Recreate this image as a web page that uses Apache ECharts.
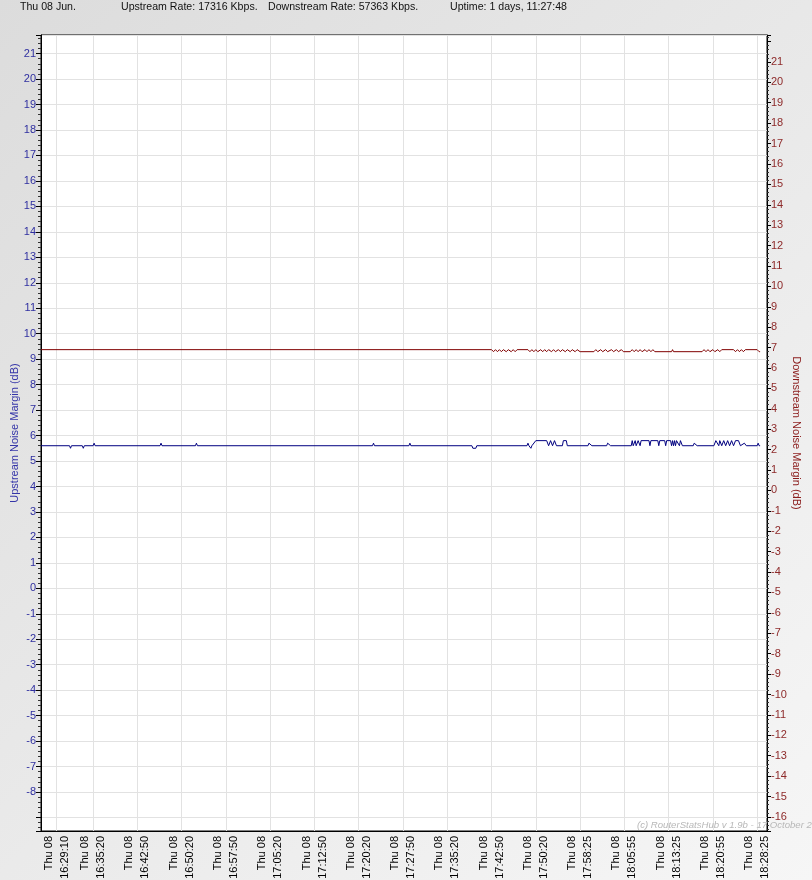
<!DOCTYPE html>
<html>
<head>
<meta charset="utf-8">
<script src="https://cdn.jsdelivr.net/npm/echarts@6/dist/echarts.min.js"></script>
<style>
html,body{margin:0;padding:0;background:#e6e6e6;}
#chart{width:812px;height:880px;}
</style>
</head>
<body>
<div id="chart"></div>
<script>
// ---- data ----
const headerTexts = ['Thu 08 Jun.', 'Upstream Rate: 17316 Kbps.', 'Downstream Rate: 57363 Kbps.', 'Uptime: 1 days, 11:27:48'];
const xDay = 'Thu 08';
const xLabelIdx = [16, 53, 98, 143, 188, 233, 278, 323, 368, 413, 458, 503, 548, 593, 638, 683, 728];
const xLabelTimes = ['16:29:10', '16:35:20', '16:42:50', '16:50:20', '16:57:50', '17:05:20', '17:12:50', '17:20:20', '17:27:50',
  '17:35:20', '17:42:50', '17:50:20', '17:58:25', '18:05:55', '18:13:25', '18:20:55', '18:28:25'];
const leftTickLabels = [-8,-7,-6,-5,-4,-3,-2,-1,0,1,2,3,4,5,6,7,8,9,10,11,12,13,14,15,16,17,18,19,20,21];
const rightTickLabels = [-16,-15,-14,-13,-12,-11,-10,-9,-8,-7,-6,-5,-4,-3,-2,-1,0,1,2,3,4,5,6,7,8,9,10,11,12,13,14,15,16,17,18,19,20,21];

// [sample index, dB]
const upstreamPoints = [
  [0,5.6],[29,5.6],[30,5.5],[31,5.6],[42,5.6],[43,5.5],[44,5.6],[53,5.6],[54,5.7],[55,5.6],
  [121,5.6],[122,5.7],[123,5.6],[157,5.6],[158,5.7],[159,5.6],[337,5.6],[338,5.7],[339,5.6],
  [374,5.6],[375,5.7],[376,5.6],[438,5.6],[439,5.5],[442,5.5],[443,5.6],
  [494,5.6],[495,5.7],[496,5.6],[498,5.5],[499,5.6],[503,5.8],[514,5.8],
  [516,5.6],[518,5.8],[520,5.6],[522,5.8],[524,5.6],[530,5.6],[531,5.8],[534,5.8],[535,5.6],
  [556,5.6],[557,5.7],[559,5.7],[560,5.6],[575,5.6],[576,5.7],[578,5.7],[579,5.6],
  [600,5.6],[601,5.8],[602,5.6],[604,5.8],[605,5.6],[607,5.8],[609,5.6],[610,5.8],[618,5.8],[619,5.6],[620,5.8],
  [627,5.8],[628,5.6],[629,5.8],[634,5.8],[635,5.6],[636,5.8],[640,5.8],[641,5.6],[642,5.8],[643,5.6],[644,5.8],
  [645,5.6],[646,5.8],[648,5.8],[649,5.6],[650,5.8],[652,5.6],[663,5.6],[664,5.7],[666,5.7],[667,5.6],
  [684,5.6],[686,5.8],[688,5.8],[689,5.6],[690,5.8],[692,5.6],[694,5.8],[696,5.6],[698,5.8],[700,5.6],
  [702,5.8],[704,5.6],[706,5.8],[709,5.8],[711,5.6],[715,5.7],[717,5.6],[728,5.6],[729,5.7],[730,5.6],[731,5.6]
];
const downstreamPoints = [
  [0,6.9],[458,6.9],[460,6.8],[462,6.9],[464,6.8],[466,6.9],[468,6.8],[470,6.9],[473,6.8],[475,6.9],[478,6.8],[480,6.9],[482,6.8],[484,6.9],
  [495,6.9],[497,6.8],[499,6.9],[501,6.8],[503,6.9],[505,6.8],[508,6.9],[510,6.8],[512,6.9],[514,6.8],[516,6.9],[519,6.8],[521,6.9],
  [523,6.8],[526,6.9],[528,6.8],[530,6.9],[533,6.8],[535,6.9],[538,6.8],[540,6.9],[543,6.8],[545,6.9],[548,6.8],
  [562,6.8],[564,6.9],[566,6.8],[569,6.9],[571,6.8],[574,6.9],[576,6.8],[580,6.9],[582,6.8],[585,6.9],[587,6.8],[590,6.9],[592,6.8],
  [599,6.8],[601,6.9],[603,6.8],[605,6.9],[607,6.8],[609,6.9],[611,6.8],[614,6.9],[616,6.8],[618,6.9],[620,6.8],[622,6.9],[624,6.8],
  [641,6.8],[642,6.9],[643,6.8],[672,6.8],[674,6.9],[676,6.8],[678,6.9],[680,6.8],[683,6.9],[685,6.8],[688,6.9],[690,6.8],[692,6.9],
  [704,6.9],[706,6.8],[708,6.9],[710,6.8],[712,6.9],[714,6.8],[716,6.9],[728,6.9],[730,6.8],[731,6.8]
];
const watermark = '(c) RouterStatsHub v 1.9b - 17 October 2';

// ---- chart ----
const FONT = '"Liberation Sans", Arial, sans-serif';
const labelMap = {};
xLabelIdx.forEach((v, i) => { labelMap[v] = xDay + '\n' + xLabelTimes[i]; });
const headerX = [20, 121, 268, 450];

const chart = echarts.init(document.getElementById('chart'), null, {renderer: 'canvas'});
chart.setOption({
  animation: false,
  backgroundColor: {
    type: 'linear', x: 0, y: 0, x2: 1, y2: 1,
    colorStops: [{offset: 0, color: '#dcdcdc'}, {offset: 1, color: '#f6f6f6'}]
  },
  textStyle: {fontFamily: FONT},
  grid: {
    left: 41, right: 45, top: 35, bottom: 49,
    show: true, backgroundColor: '#ffffff', borderColor: '#000000', borderWidth: 1,
    containLabel: false, outerBoundsMode: 'none'
  },
  graphic: headerTexts.map((t, i) => ({
    type: 'text', left: headerX[i], top: 2, z: 10,
    style: {text: t, fontSize: 10.6, fontFamily: FONT, fill: '#111111'}
  })).concat([{
    type: 'text', left: 637, top: 820, z: 100,
    style: {text: watermark, fontSize: 9.6, fontStyle: 'italic', fontFamily: FONT, fill: '#b8b8b8'}
  }]),
  xAxis: {
    type: 'value', min: 0, max: 738,
    axisLine: {show: true, onZero: false, lineStyle: {color: '#000', width: 1}},
    axisTick: {show: false, customValues: xLabelIdx},
    splitLine: {show: true, lineStyle: {color: '#e2e2e2', width: 1}},
    axisLabel: {
      customValues: xLabelIdx,
      rotate: 90, margin: 5, fontSize: 11, lineHeight: 16, color: '#000', fontFamily: FONT,
      formatter: v => labelMap[Math.round(v)] || ''
    }
  },
  yAxis: [{
    type: 'value', position: 'left', min: -9.53, max: 21.73,
    splitNumber: 31, minInterval: 1, maxInterval: 1,
    name: 'Upstream Noise Margin (dB)', nameLocation: 'middle', nameGap: 21, nameRotate: 90,
    nameMoveOverlap: false,
    nameTextStyle: {color: '#3535a8', fontSize: 11, fontFamily: FONT},
    axisLine: {show: true, onZero: false, lineStyle: {color: '#000', width: 1}},
    axisTick: {show: true, length: 5, lineStyle: {color: '#000'}},
    minorTick: {show: true, splitNumber: 5, length: 3, lineStyle: {color: '#333'}},
    splitLine: {show: true, lineStyle: {color: '#e2e2e2', width: 1}},
    axisLabel: {
      margin: 5, fontSize: 11, color: '#2f2fa0', fontFamily: FONT,
      formatter: v => leftTickLabels.includes(Math.round(v * 1000) / 1000) ? String(Math.round(v)) : ''
    }
  }, {
    type: 'value', position: 'right', min: -16.69, max: 22.32,
    splitNumber: 39, minInterval: 1, maxInterval: 1,
    name: 'Downstream Noise Margin (dB)', nameLocation: 'middle', nameGap: 24, nameRotate: -90,
    nameMoveOverlap: false,
    nameTextStyle: {color: '#8b1c1c', fontSize: 11, fontFamily: FONT},
    axisLine: {show: true, onZero: false, lineStyle: {color: '#000', width: 1}},
    axisTick: {show: true, length: 4, lineStyle: {color: '#000'}},
    minorTick: {show: true, splitNumber: 5, length: 2, lineStyle: {color: '#333'}},
    splitLine: {show: false},
    axisLabel: {
      margin: 4, fontSize: 11, color: '#8e2a2a', fontFamily: FONT,
      formatter: v => rightTickLabels.includes(Math.round(v * 1000) / 1000) ? String(Math.round(v)) : ''
    }
  }],
  series: [{
    name: 'Upstream Noise Margin', type: 'line', yAxisIndex: 0,
    data: upstreamPoints, showSymbol: false, symbol: 'none',
    lineStyle: {color: '#000080', width: 1}, itemStyle: {color: '#000080'}
  }, {
    name: 'Downstream Noise Margin', type: 'line', yAxisIndex: 1,
    data: downstreamPoints, showSymbol: false, symbol: 'none',
    lineStyle: {color: '#800000', width: 1}, itemStyle: {color: '#800000'}
  }]
});
</script>
</body>
</html>
